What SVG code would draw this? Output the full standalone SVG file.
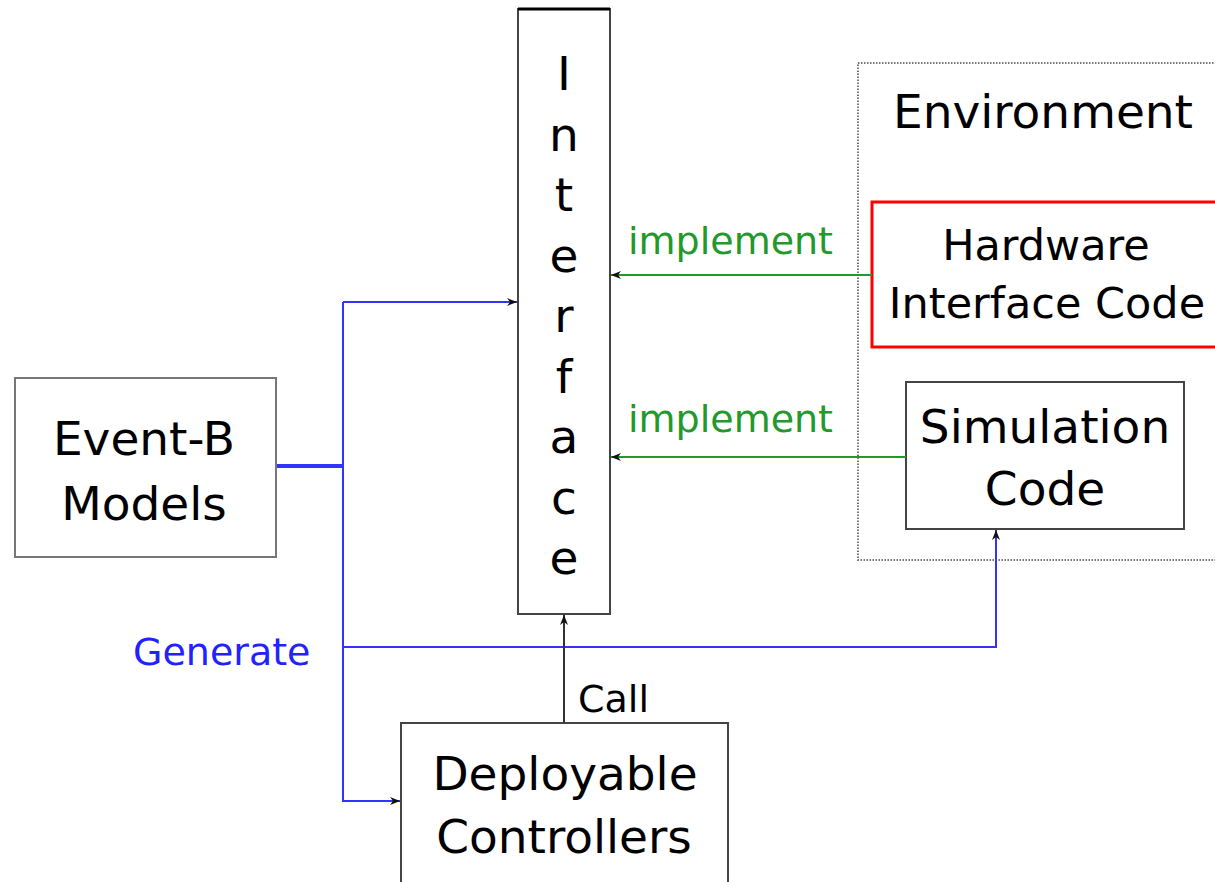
<svg xmlns="http://www.w3.org/2000/svg" width="1215" height="882" viewBox="0 0 1215 882">
<style>
text{font-family:"DejaVu Sans","Liberation Sans",sans-serif;fill:#000}
.box{fill:#fff;stroke:#444;stroke-width:2}
.big{font-size:47px;text-anchor:middle}
.mid{font-size:43px;text-anchor:middle}
.lbl{font-size:38px}
.blue{stroke:#3333ff;stroke-width:2;fill:none}
.green{stroke:#22992a;stroke-width:2;fill:none}
</style>
<defs>
<marker id="arr" viewBox="0 0 10 8" refX="10" refY="4" markerWidth="10" markerHeight="8" markerUnits="userSpaceOnUse" orient="auto">
<path d="M0,0 L10,4 L0,8 L3,4 Z" fill="#111"/>
</marker>
</defs>
<g id="environment">
<rect x="858" y="63" width="370" height="497" fill="none" stroke="#777" stroke-width="2" stroke-dasharray="1.5,1.5"/>
<text class="big" x="1043" y="128">Environment</text>
</g>
<g id="interface">
<rect class="box" x="518" y="9" width="92" height="605"/>
<line x1="518" y1="9" x2="610" y2="9" stroke="#000" stroke-width="3"/>
<text class="big" x="564" y="90">I</text>
<text class="big" x="564" y="151">n</text>
<text class="big" x="564" y="211">t</text>
<text class="big" x="564" y="272">e</text>
<text class="big" x="564" y="332">r</text>
<text class="big" x="564" y="393">f</text>
<text class="big" x="564" y="453">a</text>
<text class="big" x="564" y="514">c</text>
<text class="big" x="564" y="574">e</text>
</g>
<g id="hardware">
<rect x="872" y="202" width="360" height="145" fill="#fff" stroke="#ff0000" stroke-width="3"/>
<text class="mid" x="1046" y="260">Hardware</text>
<text class="mid" x="1047" y="318">Interface Code</text>
</g>
<g id="simulation">
<rect class="box" x="906" y="382" width="278" height="147"/>
<text class="big" x="1045" y="443">Simulation</text>
<text class="big" x="1045" y="505">Code</text>
</g>
<g id="eventb">
<rect x="15" y="378" width="261" height="179" fill="#fff" stroke="#777" stroke-width="2"/>
<text class="big" x="144" y="455">Event-B</text>
<text class="big" x="144" y="520">Models</text>
</g>
<g id="deployable">
<rect class="box" x="401" y="723" width="327" height="165"/>
<text class="big" x="565" y="790">Deployable</text>
<text class="big" x="564" y="853">Controllers</text>
</g>
<g id="connectors">
<line x1="872" y1="275" x2="611" y2="275" class="green" marker-end="url(#arr)"/>
<line x1="906" y1="457" x2="611" y2="457" class="green" marker-end="url(#arr)"/>
<line x1="277" y1="466" x2="343" y2="466" stroke="#3333ff" stroke-width="4"/>
<line x1="343" y1="302" x2="343" y2="802" class="blue"/>
<line x1="343" y1="302" x2="517" y2="302" class="blue" marker-end="url(#arr)"/>
<polyline points="343,647 996,647 996,530" class="blue" marker-end="url(#arr)"/>
<line x1="343" y1="801" x2="400" y2="801" class="blue" marker-end="url(#arr)"/>
<line x1="564" y1="723" x2="564" y2="615" stroke="#333" stroke-width="2" marker-end="url(#arr)"/>
</g>
<g id="labels">
<text class="lbl" x="628" y="254" style="fill:#22992a">implement</text>
<text class="lbl" x="628" y="432" style="fill:#22992a">implement</text>
<text class="lbl" x="133" y="665" style="fill:#2222ff">Generate</text>
<text class="lbl" x="578" y="712">Call</text>
</g>
</svg>
